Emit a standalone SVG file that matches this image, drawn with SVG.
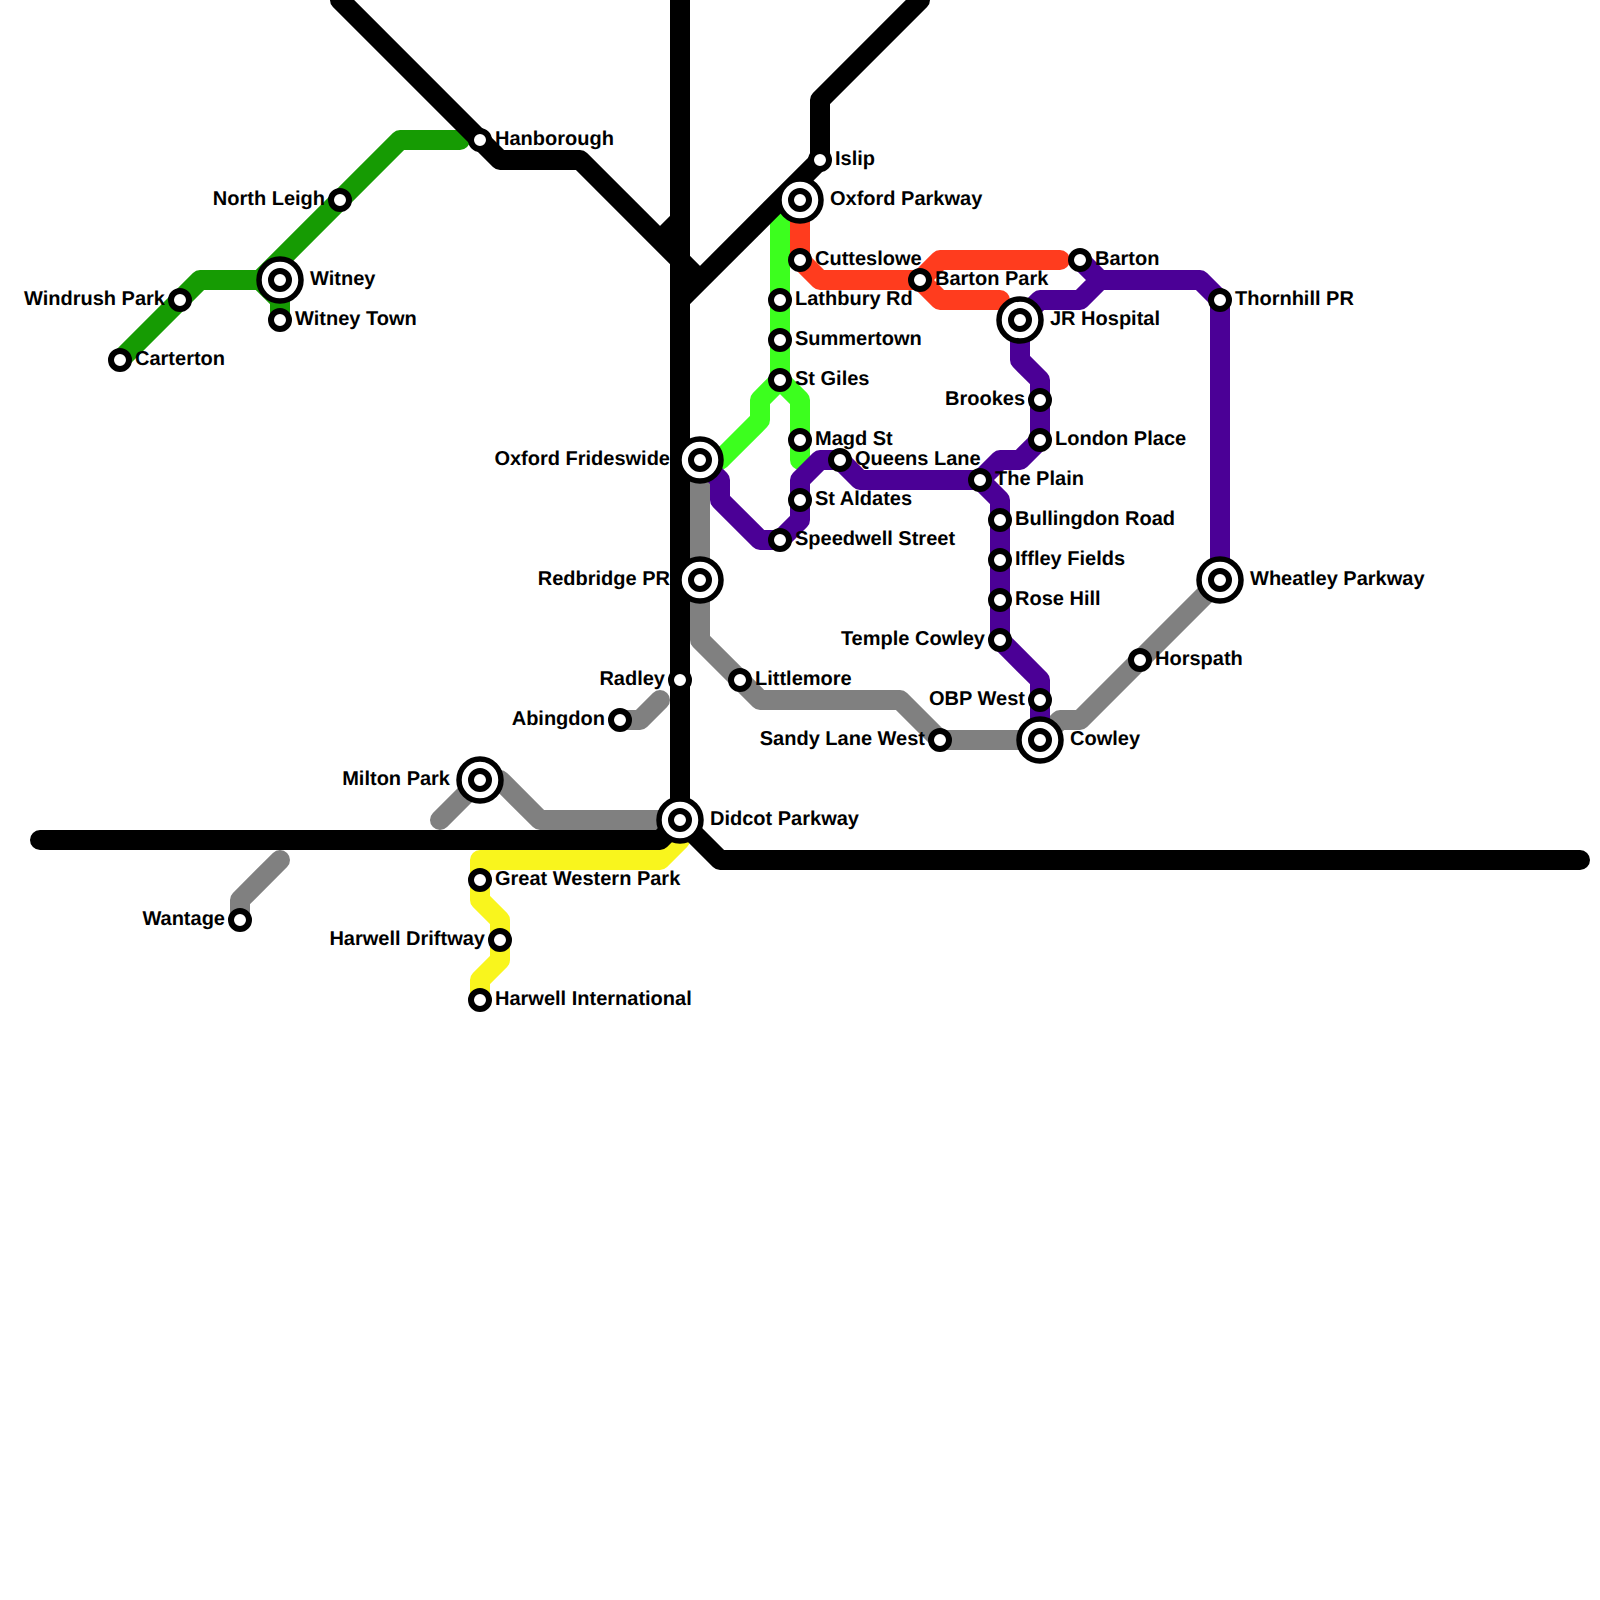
<svg xmlns="http://www.w3.org/2000/svg" width="1600" height="1600" viewBox="0 0 1600 1600">
<style>
.l{fill:none;stroke-width:20;stroke-linecap:round;stroke-linejoin:round}
.dg{stroke:#169b03}.lg{stroke:#3cff1e}.r{stroke:#ff3c1e}.g{stroke:#808080}.y{stroke:#f9f51d}.p{stroke:#4b0096}.k{stroke:#000}
.s{fill:#fff;stroke:#000;stroke-width:6}
.o{fill:#fff;stroke:#000;stroke-width:5.5}
text{font-family:"Liberation Sans",Arial,sans-serif;font-weight:700;font-size:20px;fill:#000;text-rendering:geometricPrecision}
.e{text-anchor:end}
</style>
<defs>
<circle id="st" class="s" r="9"/>
<g id="ic"><circle class="o" r="21"/><circle class="s" r="9"/></g>
</defs>
<rect width="1600" height="1600" fill="#fff"/>
<g id="connectors">
<path class="l dg" d="M120 360L200 280H260L280 300V320M260 280L400 140H460"/>
<path class="l lg" d="M780 220V380L760 400V420L720 460M780 380L800 400V460"/>
<path class="l r" d="M800 200V260L820 280H920L940 260H1060M920 280L940 300H1000"/>
<path class="l g" d="M240 920V900L280 860M440 820L480 780H500L540 820H680M620 720H640L660 700M700 460V640L760 700H900L940 740H1040L1060 720H1080L1220 580"/>
<path class="l y" d="M680 840L660 860H480V900L500 920V960L480 980V1000"/>
<path class="l p" d="M700 460L720 480V500L760 540H780L800 520V480L820 460H840L860 480H980L1000 500V640L1040 680V740M980 480L1000 460H1020L1040 440V380L1020 360V320L1040 300H1080L1100 280L1080 260M1100 280H1200L1220 300V580"/>
<path class="l k" d="M340 0L500 160H580L700 280M660 240L680 220M680 0V820M920 0L820 100V160L680 300M40 840H660L680 820L720 860H1580"/>
</g>
<g id="carterton"><use href="#st" x="120" y="360"/><text x="135" y="364.5">Carterton</text></g>
<g id="windrush-park"><use href="#st" x="180" y="300"/><text class="e" x="165" y="304.5">Windrush Park</text></g>
<g id="witney"><use href="#ic" x="280" y="280"/><text x="310" y="284.5">Witney</text></g>
<g id="witney-town"><use href="#st" x="280" y="320"/><text x="295" y="324.5">Witney Town</text></g>
<g id="north-leigh"><use href="#st" x="340" y="200"/><text class="e" x="325" y="204.5">North Leigh</text></g>
<g id="hanborough"><use href="#st" x="480" y="140"/><text x="495" y="144.5">Hanborough</text></g>
<g id="islip"><use href="#st" x="820" y="160"/><text x="835" y="164.5">Islip</text></g>
<g id="oxford-parkway"><use href="#ic" x="800" y="200"/><text x="830" y="204.5">Oxford Parkway</text></g>
<g id="cutteslowe"><use href="#st" x="800" y="260"/><text x="815" y="264.5">Cutteslowe</text></g>
<g id="lathbury-rd"><use href="#st" x="780" y="300"/><text x="795" y="304.5">Lathbury Rd</text></g>
<g id="summertown"><use href="#st" x="780" y="340"/><text x="795" y="344.5">Summertown</text></g>
<g id="st-giles"><use href="#st" x="780" y="380"/><text x="795" y="384.5">St Giles</text></g>
<g id="magd-st"><use href="#st" x="800" y="440"/><text x="815" y="444.5">Magd St</text></g>
<g id="oxford-frideswide"><use href="#ic" x="700" y="460"/><text class="e" x="670" y="464.5">Oxford Frideswide</text></g>
<g id="redbridge-pr"><use href="#ic" x="700" y="580"/><text class="e" x="670" y="584.5">Redbridge PR</text></g>
<g id="queens-lane"><use href="#st" x="840" y="460"/><text x="855" y="464.5">Queens Lane</text></g>
<g id="st-aldates"><use href="#st" x="800" y="500"/><text x="815" y="504.5">St Aldates</text></g>
<g id="speedwell-street"><use href="#st" x="780" y="540"/><text x="795" y="544.5">Speedwell Street</text></g>
<g id="barton-park"><use href="#st" x="920" y="280"/><text x="935" y="284.5">Barton Park</text></g>
<g id="barton"><use href="#st" x="1080" y="260"/><text x="1095" y="264.5">Barton</text></g>
<g id="jr-hospital"><use href="#ic" x="1020" y="320"/><text x="1050" y="324.5">JR Hospital</text></g>
<g id="thornhill-pr"><use href="#st" x="1220" y="300"/><text x="1235" y="304.5">Thornhill PR</text></g>
<g id="brookes"><use href="#st" x="1040" y="400"/><text class="e" x="1025" y="404.5">Brookes</text></g>
<g id="london-place"><use href="#st" x="1040" y="440"/><text x="1055" y="444.5">London Place</text></g>
<g id="the-plain"><use href="#st" x="980" y="480"/><text x="995" y="484.5">The Plain</text></g>
<g id="bullingdon-road"><use href="#st" x="1000" y="520"/><text x="1015" y="524.5">Bullingdon Road</text></g>
<g id="iffley-fields"><use href="#st" x="1000" y="560"/><text x="1015" y="564.5">Iffley Fields</text></g>
<g id="rose-hill"><use href="#st" x="1000" y="600"/><text x="1015" y="604.5">Rose Hill</text></g>
<g id="temple-cowley"><use href="#st" x="1000" y="640"/><text class="e" x="985" y="644.5">Temple Cowley</text></g>
<g id="wheatley-parkway"><use href="#ic" x="1220" y="580"/><text x="1250" y="584.5">Wheatley Parkway</text></g>
<g id="horspath"><use href="#st" x="1140" y="660"/><text x="1155" y="664.5">Horspath</text></g>
<g id="obp-west"><use href="#st" x="1040" y="700"/><text class="e" x="1025" y="704.5">OBP West</text></g>
<g id="cowley"><use href="#ic" x="1040" y="740"/><text x="1070" y="744.5">Cowley</text></g>
<g id="sandy-lane-west"><use href="#st" x="940" y="740"/><text class="e" x="925" y="744.5">Sandy Lane West</text></g>
<g id="littlemore"><use href="#st" x="740" y="680"/><text x="755" y="684.5">Littlemore</text></g>
<g id="radley"><use href="#st" x="680" y="680"/><text class="e" x="665" y="684.5">Radley</text></g>
<g id="abingdon"><use href="#st" x="620" y="720"/><text class="e" x="605" y="724.5">Abingdon</text></g>
<g id="milton-park"><use href="#ic" x="480" y="780"/><text class="e" x="450" y="784.5">Milton Park</text></g>
<g id="didcot-parkway"><use href="#ic" x="680" y="820"/><text x="710" y="824.5">Didcot Parkway</text></g>
<g id="wantage"><use href="#st" x="240" y="920"/><text class="e" x="225" y="924.5">Wantage</text></g>
<g id="great-western-park"><use href="#st" x="480" y="880"/><text x="495" y="884.5">Great Western Park</text></g>
<g id="harwell-driftway"><use href="#st" x="500" y="940"/><text class="e" x="485" y="944.5">Harwell Driftway</text></g>
<g id="harwell-international"><use href="#st" x="480" y="1000"/><text x="495" y="1004.5">Harwell International</text></g>
</svg>
